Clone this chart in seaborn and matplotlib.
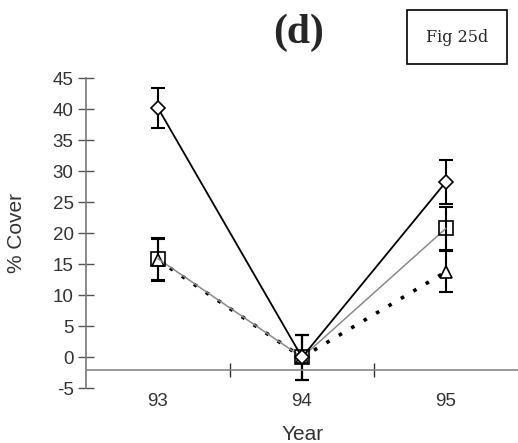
#import libraries
import pandas as pd
import matplotlib.pyplot as plt
import seaborn as sns
from matplotlib.ticker import FixedLocator
from matplotlib.patches import Rectangle

#data
years = ['93', '94', '95']
diamond = [40.2, 0.0, 28.3]
diamond_err = [3.2, 3.6, 3.6]
square = [15.9, 0.0, 20.8]
square_err = [3.4, 3.6, 3.5]
triangle = [15.7, 0.0, 13.8]
triangle_err = [3.4, 3.6, 3.3]

sns.set_style('white')
plt.rcParams['font.family'] = ['Liberation Sans', 'DejaVu Sans']
plt.rcParams['axes.unicode_minus'] = False

fig = plt.figure(figsize=(5.18, 4.43), dpi=100)
ax = fig.add_axes([86 / 518, 0.1235, 1 - 86 / 518, 0.6998])

#error bars first so markers sit on top
for vals, errs in [(diamond, diamond_err), (square, square_err), (triangle, triangle_err)]:
    ax.errorbar(years, vals, yerr=errs, fmt='none', ecolor='black',
                elinewidth=1.5, capsize=5, capthick=1.5, zorder=2)

#the three series
sns.lineplot(x=years, y=triangle, ax=ax, color='black', lw=2.6, linestyle=(0, (1, 3)),
             marker='^', markersize=9, markerfacecolor='white', markeredgecolor='black',
             markeredgewidth=1.2, zorder=3)
sns.lineplot(x=years, y=square, ax=ax, color='#8a8a8a', lw=1.1,
             marker='s', markersize=10, markerfacecolor='none', markeredgecolor='black',
             markeredgewidth=1.2, zorder=4)
sns.lineplot(x=years, y=diamond, ax=ax, color='black', lw=1.3,
             marker='D', markersize=7, markerfacecolor='white', markeredgecolor='black',
             markeredgewidth=1.2, zorder=5)

#axes styling
ax.set_ylim(-5, 45)
ax.set_xlim(-0.5, 2.5)
ax.set_yticks(range(-5, 46, 5))
for s in ['top', 'right']:
    ax.spines[s].set_visible(False)
ax.spines['bottom'].set_position(('data', -2))
ax.spines['left'].set_color('#777777')
ax.spines['bottom'].set_color('#888888')
ax.spines['left'].set_linewidth(1.2)
ax.spines['bottom'].set_linewidth(1.2)

ax.tick_params(axis='y', left=True, direction='inout', length=12, width=1, color='#555555',
               labelsize=13.5, labelcolor='#333333', pad=3)
ax.tick_params(axis='x', which='major', bottom=True, length=0, labelsize=13.5,
               labelcolor='#333333', pad=17)
ax.xaxis.set_minor_locator(FixedLocator([0.5, 1.5]))
ax.tick_params(axis='x', which='minor', bottom=True, direction='inout', length=10, width=1,
               color='#333333')

ax.set_ylabel('% Cover', fontsize=15, color='#333333')
ax.yaxis.set_label_coords(-0.14, 0.5)
ax.set_xlabel('Year', fontsize=15, color='#333333')
ax.xaxis.set_label_coords(0.502, -0.12)

#title and box label
fig.text(299 / 518, 1 - 33 / 443, '(d)', ha='center', va='center',
         family='Liberation Serif', fontweight='bold', fontsize=30)
fig.patches.append(Rectangle((407 / 518, 1 - 64 / 443), 100 / 518, 54 / 443,
                             transform=fig.transFigure, fill=False, edgecolor='black',
                             lw=1.2))
fig.text(457 / 518, 1 - 37 / 443, 'Fig 25d', ha='center', va='center',
         family='DejaVu Serif', fontsize=11.5)

fig.savefig('out.png', dpi=100)
